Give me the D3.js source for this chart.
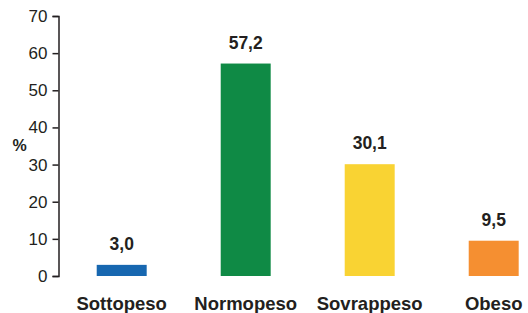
<!DOCTYPE html>
<html><head><meta charset="utf-8">
<script src="https://cdn.jsdelivr.net/npm/d3@7"></script>
<style>body{margin:0;background:#fff}svg{display:block}text{font-family:"Liberation Sans",Arial,sans-serif;fill:#231f20}</style>
</head><body><svg id="c" width="528" height="313"></svg>
<script>
const categories = ["Sottopeso","Normopeso","Sovrappeso","Obeso"];
const values = [3.0, 57.2, 30.1, 9.5];
const valueLabels = ["3,0","57,2","30,1","9,5"];
const colors = ["#1767b0","#0f8a45","#f9d333","#f58f31"];
const yTicks = [0,10,20,30,40,50,60,70];

const svg = d3.select("#c");
const x = d3.scaleBand().domain(categories).range([59.7,555.7]).paddingInner(0.597).paddingOuter(0.2985);
const y = d3.scaleLinear().domain([0,70]).range([276,16]);

const ax = svg.append("g").attr("transform","translate(58.5,0)")
  .call(d3.axisLeft(y).tickValues(yTicks).tickSize(6).tickPadding(5).tickFormat(d3.format("d")));
ax.attr("font-size",null).attr("font-family",null);
ax.select(".domain").attr("stroke","#231f20").attr("stroke-width",1.5);
ax.selectAll(".tick line").attr("stroke","#231f20").attr("stroke-width",1.5);
ax.selectAll(".tick text").style("font-size","17px").attr("fill","#231f20");

svg.append("text").attr("x",19.5).attr("y",150.5).attr("text-anchor","middle")
  .style("font-size","16px").attr("font-weight","bold").text("%");

svg.selectAll("rect.bar").data(values).join("rect").attr("class","bar")
  .attr("x",(d,i)=>x(categories[i])).attr("width",x.bandwidth())
  .attr("y",d=>y(d)).attr("height",d=>y(0)-y(d)).attr("fill",(d,i)=>colors[i]);

svg.selectAll("text.val").data(values).join("text").attr("class","val")
  .attr("x",(d,i)=>x(categories[i])+x.bandwidth()/2).attr("y",d=>y(d)-15)
  .attr("text-anchor","middle").style("font-size","17.5px").attr("font-weight","bold")
  .text((d,i)=>valueLabels[i]);

svg.selectAll("text.cat").data(categories).join("text").attr("class","cat")
  .attr("x",d=>x(d)+x.bandwidth()/2).attr("y",310)
  .attr("text-anchor","middle").style("font-size","18.5px").attr("font-weight","bold")
  .text(d=>d);
</script></body></html>
